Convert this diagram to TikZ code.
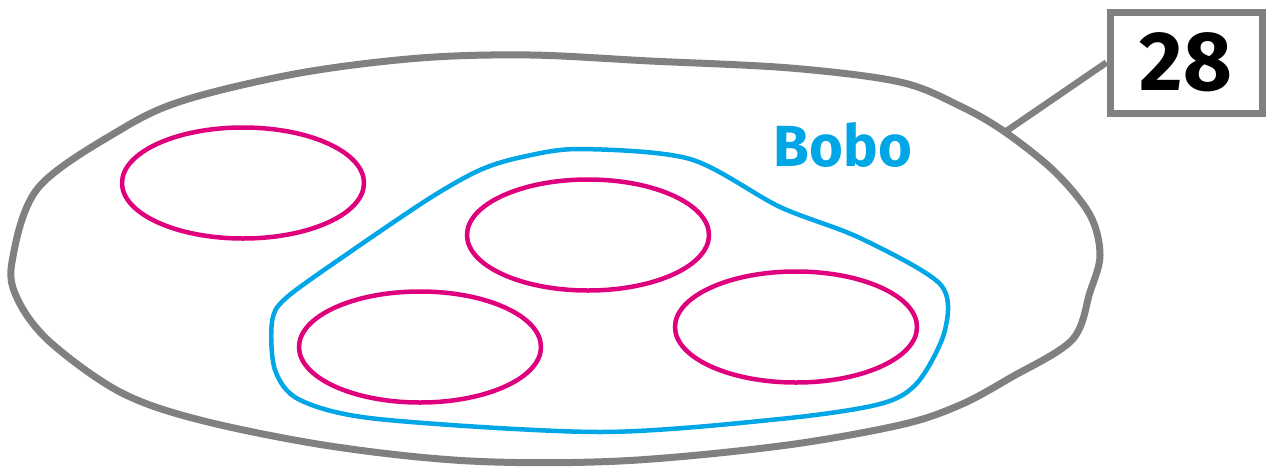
\documentclass[tikz,border=0pt]{standalone}
\usepackage{xcolor}
\usepackage{fontspec}
\setmainfont{Fira Sans}
\usetikzlibrary{shapes.geometric}

\definecolor{blobgray}{RGB}{128,128,128}
\definecolor{bobocyan}{RGB}{0,166,230}
\definecolor{setpink}{RGB}{222,0,125}

\tikzset{
  setoval/.style={ellipse, draw=setpink, line width=4.5pt, minimum width=242pt, minimum height=111pt, inner sep=0pt},
  tagbox/.style={draw=blobgray, line width=7pt, minimum width=152pt, minimum height=101pt, inner sep=0pt}
}

\begin{document}
\begin{tikzpicture}[x=1pt,y=1pt,yscale=-1]
\useasboundingbox (0,0) rectangle (1275,469);

%Outer blob
\draw [blobgray, line width=7pt, line join=round] plot [smooth cycle, tension=0.55] coordinates {
  (12,262) (38,188) (120,130) (185,100) (300,73) (420,58) (530,55) (650,61)
  (790,68) (900,82) (960,106) (1005,132) (1055,172) (1090,215) (1100,255)
  (1090,292) (1072,340) (1010,378) (960,405) (900,425) (780,446) (620,461)
  (470,461) (330,446) (200,420) (120,392) (50,342) (18,300)};

%Bobo blob
\draw [bobocyan, line width=4.5pt, line join=round] plot [smooth cycle, tension=0.5] coordinates {
  (522,157) (580,149) (690,159) (780,207) (860,238) (940,284) (945,330)
  (918,382) (880,404) (780,419) (600,432) (378,419) (300,400) (275,370)
  (272,322) (286,298) (350,252) (430,198) (480,170)};

%Sets
\node [setoval] (s1) at (243,183) {};
\node [setoval] (s2) at (588,235) {};
\node [setoval] (s3) at (420,347) {};
\node [setoval] (s4) at (796,327) {};

% Text Node
\node [text=bobocyan, font=\bfseries\fontsize{58}{60}\selectfont] (bobo) at (843,145) {Bobo};

%Tag
\node [tagbox, fill=white] (tag) at (1186,62.5) {\bfseries\fontsize{84}{86}\selectfont 28};
\coordinate (tagpin) at (1005,132);
\draw [blobgray, line width=6.5pt] (tagpin) -- (tag.west);

\end{tikzpicture}
\end{document}
